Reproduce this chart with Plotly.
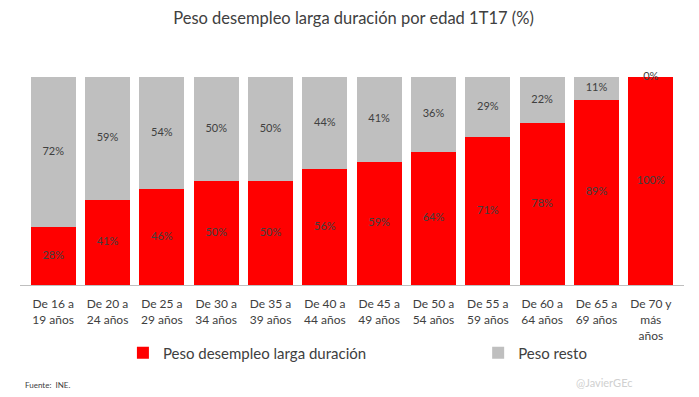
import plotly.graph_objects as go

categories = ["De 16 a<br>19 años", "De 20 a<br>24 años", "De 25 a<br>29 años", "De 30 a<br>34 años",
              "De 35 a<br>39 años", "De 40 a<br>44 años", "De 45 a<br>49 años", "De 50 a<br>54 años",
              "De 55 a<br>59 años", "De 60 a<br>64 años", "De 65 a<br>69 años", "De 70 y<br>más<br>años"]
larga = [28, 41, 46, 50, 50, 56, 59, 64, 71, 78, 89, 100]
resto = [72, 59, 54, 50, 50, 44, 41, 36, 29, 22, 11, 0]

FONT = "Lato, 'Open Sans', sans-serif"
TXT = "#404040"

fig = go.Figure()
fig.add_trace(go.Bar(x=categories, y=larga, name="Peso desempleo larga duración",
                     marker=dict(color="#FF0000", line=dict(width=0)), legend="legend"))
fig.add_trace(go.Bar(x=categories, y=resto, name="Peso resto",
                     marker=dict(color="#BFBFBF", line=dict(width=0)), legend="legend2"))

# labels at segment midpoints
fig.add_trace(go.Scatter(x=categories, y=[v / 2 for v in larga], mode="text",
                         text=[f"{v}%" for v in larga], textfont=dict(size=11, color=TXT, family=FONT),
                         showlegend=False, hoverinfo="skip", cliponaxis=False))
fig.add_trace(go.Scatter(x=categories, y=[a + b / 2 for a, b in zip(larga, resto)], mode="text",
                         text=[f"{v}%" for v in resto], textfont=dict(size=11, color=TXT, family=FONT),
                         showlegend=False, hoverinfo="skip", cliponaxis=False))

legend_common = dict(orientation="h", xanchor="left", y=-0.327, yanchor="middle",
                     font=dict(size=15, color=TXT, family=FONT), itemwidth=30,
                     bgcolor="rgba(0,0,0,0)")

fig.update_layout(
    barmode="stack",
    bargap=0.17,
    width=691, height=389,
    margin=dict(l=12, r=15, t=69, b=112, autoexpand=False),
    paper_bgcolor="white", plot_bgcolor="white",
    font=dict(family=FONT, color=TXT),
    title=dict(text="Peso desempleo larga duración por edad 1T17 (%)", x=0.5, xanchor="center",
               y=0.988, yanchor="top", font=dict(size=16.5, color=TXT, family=FONT)),
    showlegend=True,
    legend=dict(x=0.155, **legend_common),
    legend2=dict(x=0.69, **legend_common),
    xaxis=dict(showline=True, linecolor="#BFBFBF", linewidth=1, ticks="",
               tickfont=dict(size=12, color=TXT, family=FONT), tickangle=0,
               ticklabelstandoff=8),
    yaxis=dict(range=[0, 100], visible=False, showgrid=False),
    annotations=[
        dict(text="Fuente:  INE.", xref="paper", yref="paper", x=0.005, y=-0.481, xanchor="left",
             yanchor="middle", showarrow=False, font=dict(size=8, color=TXT, family=FONT)),
        dict(text="@JavierGEc", xref="paper", yref="paper", x=0.835, y=-0.47, xanchor="left",
             yanchor="middle", showarrow=False, font=dict(size=11, color="#D0D0D0", family=FONT)),
    ],
)

fig.write_html("out.html")
